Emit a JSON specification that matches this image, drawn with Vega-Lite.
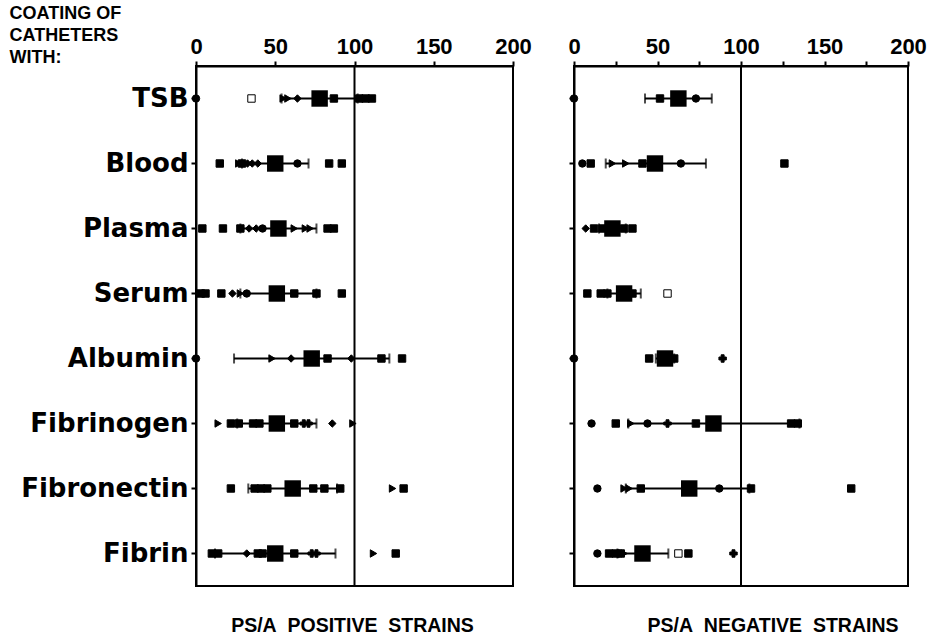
{
  "$schema": "https://vega.github.io/schema/vega-lite/v6.json",
  "background": "white",
  "padding": {"left": 8, "top": 3, "right": 5, "bottom": 0},
  "spacing": 61,
  "bounds": "flush",
  "datasets": {
    "pts": [
      {"panel": "pos", "coating": "TSB", "value": 0, "marker": "circle"},
      {"panel": "pos", "coating": "TSB", "value": 35, "marker": "open"},
      {"panel": "pos", "coating": "TSB", "value": 55, "marker": "triangle"},
      {"panel": "pos", "coating": "TSB", "value": 58, "marker": "triangle"},
      {"panel": "pos", "coating": "TSB", "value": 64, "marker": "diamond"},
      {"panel": "pos", "coating": "TSB", "value": 87, "marker": "square"},
      {"panel": "pos", "coating": "TSB", "value": 103, "marker": "square"},
      {"panel": "pos", "coating": "TSB", "value": 107, "marker": "square"},
      {"panel": "pos", "coating": "TSB", "value": 111, "marker": "square"},
      {"panel": "pos", "coating": "Blood", "value": 15, "marker": "square"},
      {"panel": "pos", "coating": "Blood", "value": 27, "marker": "triangle"},
      {"panel": "pos", "coating": "Blood", "value": 29, "marker": "square"},
      {"panel": "pos", "coating": "Blood", "value": 32.5, "marker": "diamond"},
      {"panel": "pos", "coating": "Blood", "value": 35.5, "marker": "diamond"},
      {"panel": "pos", "coating": "Blood", "value": 39, "marker": "diamond"},
      {"panel": "pos", "coating": "Blood", "value": 64, "marker": "circle"},
      {"panel": "pos", "coating": "Blood", "value": 84, "marker": "square"},
      {"panel": "pos", "coating": "Blood", "value": 92, "marker": "square"},
      {"panel": "pos", "coating": "Plasma", "value": 4, "marker": "square"},
      {"panel": "pos", "coating": "Plasma", "value": 17, "marker": "square"},
      {"panel": "pos", "coating": "Plasma", "value": 28, "marker": "square"},
      {"panel": "pos", "coating": "Plasma", "value": 33.5, "marker": "diamond"},
      {"panel": "pos", "coating": "Plasma", "value": 38, "marker": "diamond"},
      {"panel": "pos", "coating": "Plasma", "value": 42, "marker": "circle"},
      {"panel": "pos", "coating": "Plasma", "value": 62, "marker": "triangle"},
      {"panel": "pos", "coating": "Plasma", "value": 69, "marker": "triangle"},
      {"panel": "pos", "coating": "Plasma", "value": 72, "marker": "triangle"},
      {"panel": "pos", "coating": "Plasma", "value": 83, "marker": "square"},
      {"panel": "pos", "coating": "Plasma", "value": 87, "marker": "square"},
      {"panel": "pos", "coating": "Serum", "value": 3, "marker": "square"},
      {"panel": "pos", "coating": "Serum", "value": 6, "marker": "square"},
      {"panel": "pos", "coating": "Serum", "value": 16, "marker": "square"},
      {"panel": "pos", "coating": "Serum", "value": 23, "marker": "diamond"},
      {"panel": "pos", "coating": "Serum", "value": 28, "marker": "triangle"},
      {"panel": "pos", "coating": "Serum", "value": 32, "marker": "circle"},
      {"panel": "pos", "coating": "Serum", "value": 62, "marker": "square"},
      {"panel": "pos", "coating": "Serum", "value": 76, "marker": "square"},
      {"panel": "pos", "coating": "Serum", "value": 92, "marker": "square"},
      {"panel": "pos", "coating": "Albumin", "value": 0, "marker": "circle"},
      {"panel": "pos", "coating": "Albumin", "value": 48, "marker": "triangle"},
      {"panel": "pos", "coating": "Albumin", "value": 60, "marker": "diamond"},
      {"panel": "pos", "coating": "Albumin", "value": 83, "marker": "square"},
      {"panel": "pos", "coating": "Albumin", "value": 98, "marker": "diamond"},
      {"panel": "pos", "coating": "Albumin", "value": 117, "marker": "square"},
      {"panel": "pos", "coating": "Albumin", "value": 130, "marker": "square"},
      {"panel": "pos", "coating": "Fibrinogen", "value": 14, "marker": "triangle"},
      {"panel": "pos", "coating": "Fibrinogen", "value": 22, "marker": "square"},
      {"panel": "pos", "coating": "Fibrinogen", "value": 27, "marker": "square"},
      {"panel": "pos", "coating": "Fibrinogen", "value": 36, "marker": "square"},
      {"panel": "pos", "coating": "Fibrinogen", "value": 40, "marker": "square"},
      {"panel": "pos", "coating": "Fibrinogen", "value": 62, "marker": "square"},
      {"panel": "pos", "coating": "Fibrinogen", "value": 68, "marker": "cross"},
      {"panel": "pos", "coating": "Fibrinogen", "value": 71, "marker": "cross"},
      {"panel": "pos", "coating": "Fibrinogen", "value": 86, "marker": "diamond"},
      {"panel": "pos", "coating": "Fibrinogen", "value": 99, "marker": "triangle"},
      {"panel": "pos", "coating": "Fibronectin", "value": 22, "marker": "square"},
      {"panel": "pos", "coating": "Fibronectin", "value": 37, "marker": "square"},
      {"panel": "pos", "coating": "Fibronectin", "value": 41, "marker": "square"},
      {"panel": "pos", "coating": "Fibronectin", "value": 45, "marker": "square"},
      {"panel": "pos", "coating": "Fibronectin", "value": 74, "marker": "square"},
      {"panel": "pos", "coating": "Fibronectin", "value": 81, "marker": "square"},
      {"panel": "pos", "coating": "Fibronectin", "value": 91, "marker": "square"},
      {"panel": "pos", "coating": "Fibronectin", "value": 124, "marker": "triangle"},
      {"panel": "pos", "coating": "Fibronectin", "value": 131, "marker": "square"},
      {"panel": "pos", "coating": "Fibrin", "value": 10, "marker": "square"},
      {"panel": "pos", "coating": "Fibrin", "value": 14, "marker": "square"},
      {"panel": "pos", "coating": "Fibrin", "value": 32, "marker": "diamond"},
      {"panel": "pos", "coating": "Fibrin", "value": 39, "marker": "square"},
      {"panel": "pos", "coating": "Fibrin", "value": 42, "marker": "square"},
      {"panel": "pos", "coating": "Fibrin", "value": 62, "marker": "square"},
      {"panel": "pos", "coating": "Fibrin", "value": 73, "marker": "cross"},
      {"panel": "pos", "coating": "Fibrin", "value": 76, "marker": "cross"},
      {"panel": "pos", "coating": "Fibrin", "value": 112, "marker": "triangle"},
      {"panel": "pos", "coating": "Fibrin", "value": 126, "marker": "square"},
      {"panel": "neg", "coating": "TSB", "value": 0, "marker": "circle"},
      {"panel": "neg", "coating": "TSB", "value": 51.5, "marker": "square"},
      {"panel": "neg", "coating": "TSB", "value": 73, "marker": "circle"},
      {"panel": "neg", "coating": "Blood", "value": 5, "marker": "circle"},
      {"panel": "neg", "coating": "Blood", "value": 10, "marker": "square"},
      {"panel": "neg", "coating": "Blood", "value": 23, "marker": "triangle"},
      {"panel": "neg", "coating": "Blood", "value": 31, "marker": "triangle"},
      {"panel": "neg", "coating": "Blood", "value": 41, "marker": "square"},
      {"panel": "neg", "coating": "Blood", "value": 64, "marker": "circle"},
      {"panel": "neg", "coating": "Blood", "value": 126, "marker": "square"},
      {"panel": "neg", "coating": "Plasma", "value": 7, "marker": "diamond"},
      {"panel": "neg", "coating": "Plasma", "value": 12, "marker": "square"},
      {"panel": "neg", "coating": "Plasma", "value": 17, "marker": "square"},
      {"panel": "neg", "coating": "Plasma", "value": 30, "marker": "square"},
      {"panel": "neg", "coating": "Plasma", "value": 35, "marker": "square"},
      {"panel": "neg", "coating": "Serum", "value": 8, "marker": "square"},
      {"panel": "neg", "coating": "Serum", "value": 16, "marker": "square"},
      {"panel": "neg", "coating": "Serum", "value": 20, "marker": "square"},
      {"panel": "neg", "coating": "Serum", "value": 35, "marker": "square"},
      {"panel": "neg", "coating": "Serum", "value": 56, "marker": "open"},
      {"panel": "neg", "coating": "Albumin", "value": 0, "marker": "circle"},
      {"panel": "neg", "coating": "Albumin", "value": 45, "marker": "square"},
      {"panel": "neg", "coating": "Albumin", "value": 60, "marker": "square"},
      {"panel": "neg", "coating": "Albumin", "value": 89, "marker": "cross"},
      {"panel": "neg", "coating": "Fibrinogen", "value": 10.5, "marker": "circle"},
      {"panel": "neg", "coating": "Fibrinogen", "value": 25, "marker": "square"},
      {"panel": "neg", "coating": "Fibrinogen", "value": 34, "marker": "triangle"},
      {"panel": "neg", "coating": "Fibrinogen", "value": 44, "marker": "circle"},
      {"panel": "neg", "coating": "Fibrinogen", "value": 56, "marker": "cross"},
      {"panel": "neg", "coating": "Fibrinogen", "value": 73, "marker": "square"},
      {"panel": "neg", "coating": "Fibrinogen", "value": 130, "marker": "square"},
      {"panel": "neg", "coating": "Fibrinogen", "value": 134, "marker": "square"},
      {"panel": "neg", "coating": "Fibronectin", "value": 14, "marker": "circle"},
      {"panel": "neg", "coating": "Fibronectin", "value": 30, "marker": "triangle"},
      {"panel": "neg", "coating": "Fibronectin", "value": 33, "marker": "triangle"},
      {"panel": "neg", "coating": "Fibronectin", "value": 40, "marker": "square"},
      {"panel": "neg", "coating": "Fibronectin", "value": 87, "marker": "circle"},
      {"panel": "neg", "coating": "Fibronectin", "value": 106, "marker": "square"},
      {"panel": "neg", "coating": "Fibronectin", "value": 166, "marker": "square"},
      {"panel": "neg", "coating": "Fibrin", "value": 14, "marker": "circle"},
      {"panel": "neg", "coating": "Fibrin", "value": 21, "marker": "square"},
      {"panel": "neg", "coating": "Fibrin", "value": 25, "marker": "square"},
      {"panel": "neg", "coating": "Fibrin", "value": 28, "marker": "square"},
      {"panel": "neg", "coating": "Fibrin", "value": 30, "marker": "triangle"},
      {"panel": "neg", "coating": "Fibrin", "value": 62.5, "marker": "open"},
      {"panel": "neg", "coating": "Fibrin", "value": 68.5, "marker": "square"},
      {"panel": "neg", "coating": "Fibrin", "value": 95.5, "marker": "cross"}
    ],
    "stats": [
      {"panel": "pos", "coating": "TSB", "mean": 78, "lo": 54, "hi": 102},
      {"panel": "pos", "coating": "Blood", "mean": 50, "lo": 29, "hi": 71},
      {"panel": "pos", "coating": "Plasma", "mean": 52, "lo": 28, "hi": 76},
      {"panel": "pos", "coating": "Serum", "mean": 51, "lo": 28, "hi": 76},
      {"panel": "pos", "coating": "Albumin", "mean": 73, "lo": 24, "hi": 122},
      {"panel": "pos", "coating": "Fibrinogen", "mean": 51, "lo": 26, "hi": 76},
      {"panel": "pos", "coating": "Fibronectin", "mean": 61, "lo": 33, "hi": 89},
      {"panel": "pos", "coating": "Fibrin", "mean": 50, "lo": 12, "hi": 88},
      {"panel": "neg", "coating": "TSB", "mean": 62.5, "lo": 42.5, "hi": 82.5},
      {"panel": "neg", "coating": "Blood", "mean": 48.5, "lo": 19, "hi": 79},
      {"panel": "neg", "coating": "Plasma", "mean": 23, "lo": 15, "hi": 31},
      {"panel": "neg", "coating": "Serum", "mean": 30, "lo": 20, "hi": 40},
      {"panel": "neg", "coating": "Albumin", "mean": 54.5, "lo": 49, "hi": 60},
      {"panel": "neg", "coating": "Fibrinogen", "mean": 83.5, "lo": 32.5, "hi": 135},
      {"panel": "neg", "coating": "Fibronectin", "mean": 69, "lo": 31, "hi": 105},
      {"panel": "neg", "coating": "Fibrin", "mean": 41, "lo": 26, "hi": 56.5}
    ]
  },
  "hconcat": [
    {
      "width": 317,
      "height": 520,
      "title": {"text": "PS/A\u00a0\u00a0POSITIVE\u00a0\u00a0STRAINS", "orient": "bottom", "anchor": "middle", "dx": -2, "offset": 30, "fontSize": 19.5, "fontWeight": "bold", "font": "Liberation Sans", "color": "black"},
      "layer": [
        {
          "data": {"values": [{"ref": 100}]},
          "mark": {"type": "rule", "strokeWidth": 2, "color": "black"},
          "encoding": {
            "x": {"field": "ref", "type": "quantitative", "scale": {"domain": [0, 200], "nice": false},
              "axis": {"orient": "top", "values": [0, 50, 100, 150, 200], "title": null, "labelFont": "Liberation Sans", "labelFontSize": 22, "labelFontWeight": "bold", "labelPadding": 3, "tickSize": 5, "labelFlush": false}}
          }
        },
        {
          "data": {"name": "stats"},
          "transform": [{"filter": "datum.panel === 'pos'"}],
          "mark": {"type": "rule", "strokeWidth": 2, "color": "black"},
          "encoding": {
            "x": {"field": "lo", "type": "quantitative"},
            "x2": {"field": "hi"},
            "y": {"field": "coating", "type": "nominal",
              "scale": {"domain": ["TSB", "Blood", "Plasma", "Serum", "Albumin", "Fibrinogen", "Fibronectin", "Fibrin"], "paddingInner": 0, "paddingOuter": 0},
              "axis": {"title": ["COATING OF", "CATHETERS", "WITH:"], "titleAngle": 0, "titleAlign": "left", "titleBaseline": "top", "titleX": -187, "titleY": -62, "titleFont": "Liberation Sans", "titleFontSize": 18, "titleFontWeight": "bold", "titleLineHeight": 22, "titleColor": "black",
                "labelFont": "DejaVu Sans", "labelFontSize": 26, "labelFontWeight": "bold", "labelPadding": 3, "tickSize": 5}}
          }
        },
        {
          "data": {"name": "stats"},
          "transform": [{"filter": "datum.panel === 'pos'"}],
          "mark": {"type": "tick", "size": 10, "thickness": 2, "color": "black"},
          "encoding": {"x": {"field": "lo", "type": "quantitative"}, "y": {"field": "coating", "type": "nominal"}}
        },
        {
          "data": {"name": "stats"},
          "transform": [{"filter": "datum.panel === 'pos'"}],
          "mark": {"type": "tick", "size": 10, "thickness": 2, "color": "black"},
          "encoding": {"x": {"field": "hi", "type": "quantitative"}, "y": {"field": "coating", "type": "nominal"}}
        },
        {
          "data": {"name": "pts"},
          "transform": [{"filter": "datum.panel === 'pos'"}],
          "mark": {"type": "point", "filled": true, "stroke": "black", "strokeWidth": 1, "opacity": 1, "size": 55},
          "encoding": {
            "x": {"field": "value", "type": "quantitative"},
            "y": {"field": "coating", "type": "nominal"},
            "shape": {"field": "marker", "type": "nominal", "legend": null,
              "scale": {"domain": ["square", "circle", "diamond", "triangle", "open", "cross"], "range": ["square", "circle", "diamond", "triangle-right", "square", "cross"]}},
            "fill": {"condition": {"test": "datum.marker === 'open'", "value": "white"}, "value": "black"}
          }
        },
        {
          "data": {"name": "stats"},
          "transform": [{"filter": "datum.panel === 'pos'"}],
          "mark": {"type": "square", "size": 270, "color": "black", "opacity": 1},
          "encoding": {"x": {"field": "mean", "type": "quantitative"}, "y": {"field": "coating", "type": "nominal"}}
        }
      ]
    },
    {
      "width": 334,
      "height": 520,
      "title": {"text": "PS/A\u00a0\u00a0NEGATIVE\u00a0\u00a0STRAINS", "orient": "bottom", "anchor": "middle", "dx": 32, "offset": 30, "fontSize": 19.5, "fontWeight": "bold", "font": "Liberation Sans", "color": "black"},
      "layer": [
        {
          "data": {"values": [{"ref": 100}]},
          "mark": {"type": "rule", "strokeWidth": 2, "color": "black"},
          "encoding": {
            "x": {"field": "ref", "type": "quantitative", "scale": {"domain": [0, 200], "nice": false},
              "axis": {"orient": "top", "values": [0, 25, 50, 75, 100, 125, 150, 175, 200], "labelExpr": "datum.value % 50 === 0 ? datum.label : ''", "title": null, "labelFont": "Liberation Sans", "labelFontSize": 22, "labelFontWeight": "bold", "labelPadding": 3, "tickSize": 5, "labelFlush": false}}
          }
        },
        {
          "data": {"name": "stats"},
          "transform": [{"filter": "datum.panel === 'neg'"}],
          "mark": {"type": "rule", "strokeWidth": 2, "color": "black"},
          "encoding": {
            "x": {"field": "lo", "type": "quantitative"},
            "x2": {"field": "hi"},
            "y": {"field": "coating", "type": "nominal",
              "scale": {"domain": ["TSB", "Blood", "Plasma", "Serum", "Albumin", "Fibrinogen", "Fibronectin", "Fibrin"], "paddingInner": 0, "paddingOuter": 0},
              "axis": {"title": null, "labels": false, "tickSize": 5}}
          }
        },
        {
          "data": {"name": "stats"},
          "transform": [{"filter": "datum.panel === 'neg'"}],
          "mark": {"type": "tick", "size": 10, "thickness": 2, "color": "black"},
          "encoding": {"x": {"field": "lo", "type": "quantitative"}, "y": {"field": "coating", "type": "nominal"}}
        },
        {
          "data": {"name": "stats"},
          "transform": [{"filter": "datum.panel === 'neg'"}],
          "mark": {"type": "tick", "size": 10, "thickness": 2, "color": "black"},
          "encoding": {"x": {"field": "hi", "type": "quantitative"}, "y": {"field": "coating", "type": "nominal"}}
        },
        {
          "data": {"name": "pts"},
          "transform": [{"filter": "datum.panel === 'neg'"}],
          "mark": {"type": "point", "filled": true, "stroke": "black", "strokeWidth": 1, "opacity": 1, "size": 55},
          "encoding": {
            "x": {"field": "value", "type": "quantitative"},
            "y": {"field": "coating", "type": "nominal"},
            "shape": {"field": "marker", "type": "nominal", "legend": null,
              "scale": {"domain": ["square", "circle", "diamond", "triangle", "open", "cross"], "range": ["square", "circle", "diamond", "triangle-right", "square", "cross"]}},
            "fill": {"condition": {"test": "datum.marker === 'open'", "value": "white"}, "value": "black"}
          }
        },
        {
          "data": {"name": "stats"},
          "transform": [{"filter": "datum.panel === 'neg'"}],
          "mark": {"type": "square", "size": 270, "color": "black", "opacity": 1},
          "encoding": {"x": {"field": "mean", "type": "quantitative"}, "y": {"field": "coating", "type": "nominal"}}
        }
      ]
    }
  ],
  "config": {
    "view": {"stroke": "black", "strokeWidth": 2},
    "axis": {"domainColor": "black", "domainWidth": 2, "tickColor": "black", "tickWidth": 2, "grid": false, "labelColor": "black"},
    "font": "Liberation Sans"
  }
}
